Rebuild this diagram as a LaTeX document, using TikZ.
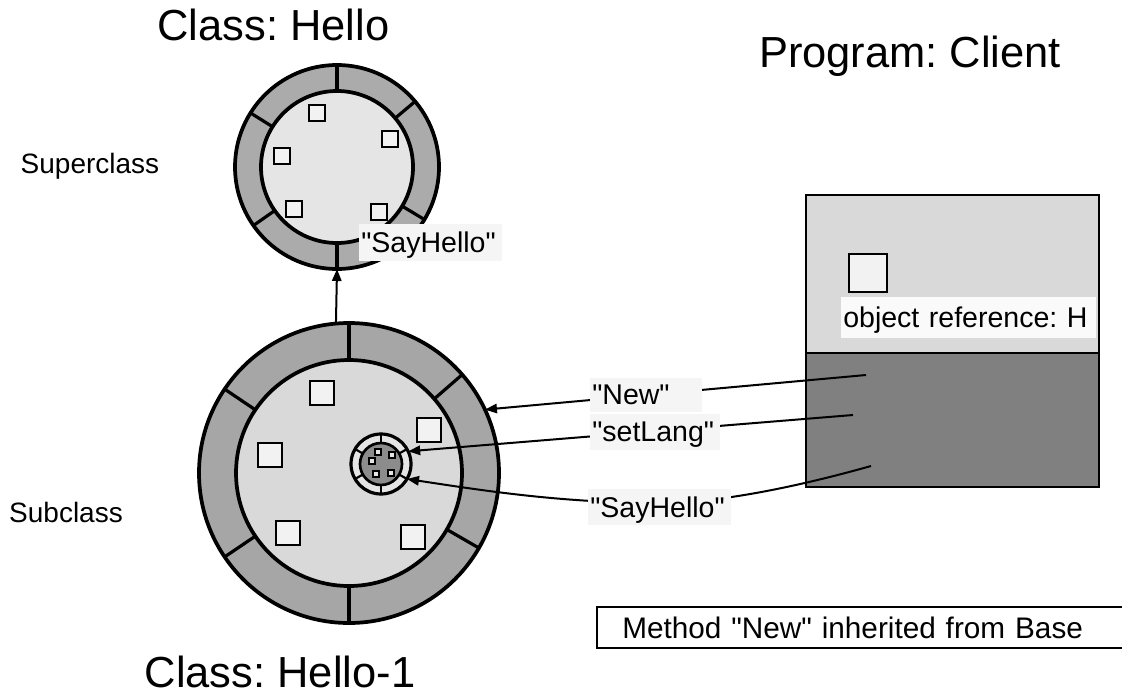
\documentclass[tikz,border=0pt]{standalone}
\usepackage{fontspec}
\setmainfont{Liberation Sans}[Ligatures=TeXOff]
\usetikzlibrary{arrows.meta}
\newcommand\dq{\char34\relax}
\definecolor{supring}{gray}{0.67}
\definecolor{supcore}{gray}{0.90}
\definecolor{subring}{gray}{0.65}
\definecolor{subcore}{gray}{0.85}
\definecolor{slot}{gray}{0.95}
\definecolor{nucleus}{gray}{0.55}
\definecolor{nucring}{gray}{0.90}
\definecolor{boxtop}{gray}{0.85}
\definecolor{boxbot}{gray}{0.50}
\definecolor{labbg}{gray}{0.96}
\definecolor{refbg}{gray}{0.98}
\begin{document}
\frenchspacing
\begin{tikzpicture}[x=0.75pt,y=-0.75pt,
  ring/.style={circle,draw,line width=2.8pt,inner sep=0pt,outer sep=0pt},
  divider/.style={line width=2.4pt},
  slotbig/.style={rectangle,draw,fill=slot,line width=1.7pt,minimum size=18pt,inner sep=0pt},
  slotsmall/.style={rectangle,draw,fill=slot,line width=1.6pt,minimum size=12.5pt,inner sep=0pt},
  slottiny/.style={rectangle,draw,fill=nucring,line width=1.1pt,minimum size=4.2pt,inner sep=0pt},
  title/.style={font=\fontsize{32.6}{38}\selectfont,inner sep=0pt,anchor=base},
  side/.style={font=\fontsize{21}{25}\selectfont,inner sep=0pt,anchor=base},
  msglab/.style={fill=labbg,font=\fontsize{21.4}{25}\selectfont,anchor=west,
    inner xsep=1.5pt,inner ysep=0pt,text depth=0pt,align=left},
  conn/.style={line width=1.5pt,-{Triangle[length=9pt,width=7pt]}},
  plain/.style={line width=1.5pt}
]
\useasboundingbox (0,0) rectangle (1126,696);

% ---- superclass Hello ----
\node[ring,fill=supring,minimum size=153pt] (sup) at (337,167) {};
\node[ring,fill=supcore,minimum size=114pt] (supin) at (337,167) {};
\foreach \a in {90,40,148,215,329,270}
  \draw[divider] (supin.\a) -- (sup.\a);
\foreach \p [count=\i] in {(317,113),(390,139),(282,156),(294,209),(379,212)}
  \node[slotsmall] (sups\i) at \p {};

% ---- subclass Hello-1 ----
\node[ring,fill=subring,minimum size=225pt] (sub) at (349,473) {};
\node[ring,fill=subcore,minimum size=169.5pt] (subin) at (349,473) {};
\foreach \a in {90,41,146,214,330,270}
  \draw[divider] (subin.\a) -- (sub.\a);
\foreach \p [count=\i] in {(322,393),(429,430),(270,455),(288,533),(413,537)}
  \node[slotbig] (subs\i) at \p {};

% ---- nested instance inside the subclass ----
\node[ring,fill=nucring,line width=2.4pt,minimum size=45pt] (core) at (381,464) {};
\node[ring,fill=nucleus,line width=2pt,minimum size=31.5pt] (corein) at (381,464) {};
\foreach \a in {30,90,150,210,270,330}
  \draw[line width=1.6pt] (corein.\a) -- (core.\a);
\foreach \p [count=\i] in {(378,452),(392,455),(372,461),(376,474),(391,473)}
  \node[slottiny] (cores\i) at \p {};

% inheritance arrow
\draw[conn] (sub.95) -- (sup.south);

% ---- client program ----
\node[rectangle,draw,fill=boxtop,line width=1.6pt,minimum width=219.75pt,
  minimum height=118.5pt,inner sep=0pt] (ctop) at (952.5,274) {};
\node[rectangle,draw,fill=boxbot,line width=1.6pt,minimum width=219.75pt,
  minimum height=100.5pt,inner sep=0pt] (cbot) at (952.5,420) {};
\node[rectangle,draw,fill=slot,line width=1.8pt,minimum size=28.5pt,inner sep=0pt]
  (href) at (868,273) {};
\node[msglab,fill=refbg,text width=188pt,minimum height=30.75pt] (reflab)
  at (841,317.5) {object reference: H};

% ---- messages ----
\coordinate (newFrom) at (866,375);
\coordinate (setFrom) at (853,415);
\coordinate (sayFrom) at (871,466);
\coordinate (sayMid)  at (660,503);

\draw[conn] (newFrom) -- (sub.25);
\draw[conn] (setFrom) -- (core.25);
\draw[conn] (sayFrom) .. controls (800,486) and (720,503) .. (sayMid)
  .. controls (560,503) and (480,490) .. (core.-30);

\node[msglab,text width=81pt,minimum height=25.5pt] (newlab) at (590,395) {\dq New\dq};
\node[msglab,text width=94.5pt,minimum height=27pt] (setlab) at (590,432) {\dq setLang\dq};
\node[msglab,text width=104pt,minimum height=27pt] (saylab) at (588,507) {\dq SayHello\dq};
\node[msglab,text width=104pt,minimum height=27.75pt] (supsay) at (359,242.5) {\dq SayHello\dq};

% ---- titles and notes ----
\node[title] (tsup) at (273.5,40) {Class: Hello};
\node[title] (tcli) at (910,67) {Program: Client};
\node[title] (tsub) at (280,687) {Class: Hello-1};
\node[side] (lsup) at (90,173) {Superclass};
\node[side] (lsub) at (66,522) {Subclass};

\node[rectangle,font=\fontsize{22.3}{26}\selectfont,anchor=west,inner xsep=18.75pt,
  inner ysep=0pt,text width=356pt,align=left,minimum height=30.75pt,text depth=0pt]
  (note) at (597,627.5) {Method \dq New\dq{} inherited from Base};
\draw[line width=1.2pt] (note.north east) -- (note.north west)
  -- (note.south west) -- (note.south east);
\end{tikzpicture}
\end{document}
